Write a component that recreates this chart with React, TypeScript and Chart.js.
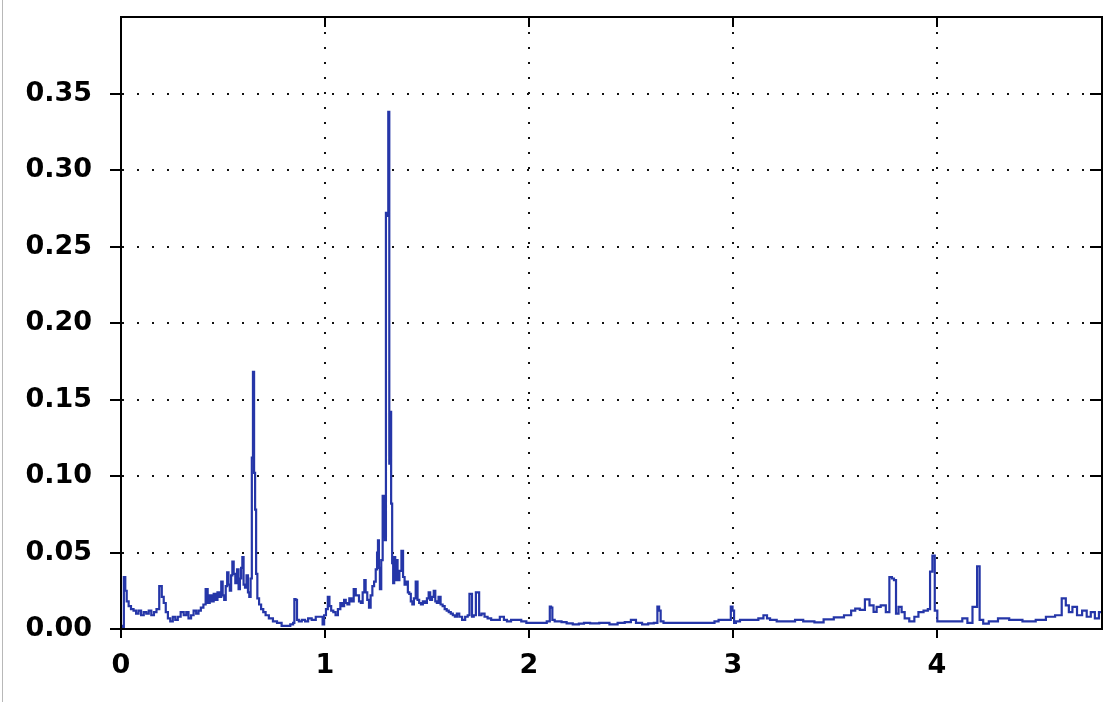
import React, { useEffect, useRef } from "react";
import { Chart, registerables } from "chart.js";

Chart.register(...registerables);

// Spectrum samples: frequency (x) and amplitude (y)
const freq = [
  0.0, 0.01, 0.018, 0.024, 0.032, 0.043, 0.055, 0.068, 0.08, 0.092, 0.105, 0.118, 0.13, 0.142, 0.155, 0.168,
  0.18, 0.195, 0.205, 0.214, 0.225, 0.235, 0.248, 0.26, 0.272, 0.285, 0.3, 0.315, 0.325, 0.337, 0.35, 0.362,
  0.375, 0.385, 0.398, 0.41, 0.42, 0.43, 0.44, 0.45, 0.459, 0.468, 0.478, 0.488, 0.495, 0.502, 0.51, 0.517,
  0.524, 0.53, 0.537, 0.543, 0.549, 0.556, 0.565, 0.573, 0.58, 0.586, 0.592, 0.598, 0.604, 0.612, 0.619, 0.626,
  0.632, 0.639, 0.644, 0.65, 0.655, 0.66, 0.665, 0.672, 0.682, 0.692, 0.703, 0.715, 0.735, 0.755, 0.775, 0.8,
  0.82, 0.84, 0.848, 0.852, 0.86, 0.866, 0.878, 0.895, 0.91, 0.925, 0.945, 0.965, 0.985, 0.992, 1.0, 1.01,
  1.018, 1.026, 1.035, 1.047, 1.057, 1.07, 1.081, 1.09, 1.098, 1.106, 1.114, 1.125, 1.135, 1.147, 1.155, 1.162,
  1.172, 1.18, 1.19, 1.196, 1.203, 1.212, 1.22, 1.228, 1.237, 1.245, 1.253, 1.258, 1.262, 1.267, 1.272, 1.28,
  1.286, 1.292, 1.296, 1.302, 1.308, 1.313, 1.318, 1.322, 1.327, 1.332, 1.337, 1.342, 1.347, 1.352, 1.36, 1.37,
  1.38, 1.386, 1.395, 1.403, 1.41, 1.417, 1.425, 1.432, 1.44, 1.45, 1.458, 1.466, 1.475, 1.485, 1.495, 1.505,
  1.512, 1.52, 1.53, 1.537, 1.545, 1.552, 1.562, 1.572, 1.582, 1.592, 1.602, 1.612, 1.622, 1.632, 1.642, 1.652,
  1.665, 1.68, 1.695, 1.705, 1.712, 1.718, 1.724, 1.735, 1.745, 1.752, 1.76, 1.775, 1.79, 1.805, 1.825, 1.845,
  1.87, 1.885, 1.9, 1.925, 1.95, 1.975, 2.0, 2.025, 2.05, 2.075, 2.1, 2.105, 2.112, 2.118, 2.135, 2.15,
  2.17, 2.2, 2.23, 2.26, 2.28, 2.32, 2.37, 2.42, 2.45, 2.49, 2.51, 2.54, 2.57, 2.6, 2.625, 2.635,
  2.642, 2.65, 2.67, 2.75, 2.88, 2.9, 2.92, 2.94, 2.985, 2.995, 3.002, 3.01, 3.02, 3.05, 3.08, 3.11,
  3.14, 3.16, 3.175, 3.19, 3.24, 3.28, 3.33, 3.36, 3.38, 3.42, 3.47, 3.52, 3.57, 3.59, 3.61, 3.635,
  3.66, 3.68, 3.7, 3.71, 3.74, 3.76, 3.775, 3.785, 3.795, 3.805, 3.82, 3.835, 3.85, 3.88, 3.9, 3.92,
  3.95, 3.962, 3.972, 3.985, 3.995, 4.01, 4.05, 4.11, 4.14, 4.16, 4.19, 4.205, 4.215, 4.24, 4.27, 4.33,
  4.38, 4.46, 4.51, 4.56, 4.6, 4.625, 4.64, 4.655, 4.675, 4.7, 4.725, 4.745, 4.765, 4.785, 4.805,
];

const amp = [
  0.002, 0.001, 0.034, 0.025, 0.018, 0.015, 0.013, 0.012, 0.01, 0.012, 0.009, 0.011, 0.01, 0.012, 0.009, 0.011,
  0.013, 0.028, 0.021, 0.017, 0.011, 0.007, 0.005, 0.008, 0.006, 0.008, 0.011, 0.009, 0.011, 0.007, 0.009, 0.012,
  0.01, 0.012, 0.014, 0.016, 0.026, 0.017, 0.022, 0.018, 0.023, 0.019, 0.024, 0.021, 0.031, 0.022, 0.019, 0.028,
  0.037, 0.029, 0.025, 0.035, 0.044, 0.036, 0.03, 0.039, 0.026, 0.033, 0.04, 0.047, 0.029, 0.027, 0.035, 0.024,
  0.021, 0.033, 0.112, 0.168, 0.102, 0.078, 0.036, 0.02, 0.016, 0.013, 0.011, 0.009, 0.007, 0.005, 0.004, 0.002,
  0.002, 0.003, 0.004, 0.0195, 0.019, 0.006, 0.005, 0.006, 0.005, 0.007, 0.006, 0.008, 0.008, 0.003, 0.009, 0.013,
  0.021, 0.015, 0.012, 0.011, 0.009, 0.013, 0.017, 0.015, 0.019, 0.017, 0.016, 0.02, 0.018, 0.026, 0.022, 0.022,
  0.018, 0.017, 0.024, 0.032, 0.024, 0.019, 0.014, 0.022, 0.028, 0.031, 0.039, 0.05, 0.058, 0.04, 0.026, 0.045,
  0.087, 0.06, 0.058, 0.272, 0.27, 0.338, 0.108, 0.142, 0.082, 0.043, 0.03, 0.047, 0.032, 0.045, 0.032, 0.038,
  0.051, 0.034, 0.029, 0.031, 0.024, 0.023, 0.018, 0.016, 0.02, 0.031, 0.019, 0.017, 0.016, 0.018, 0.017, 0.02,
  0.024, 0.019, 0.021, 0.025, 0.018, 0.017, 0.021, 0.016, 0.015, 0.013, 0.012, 0.011, 0.01, 0.009, 0.008, 0.01,
  0.008, 0.006, 0.008, 0.009, 0.023, 0.023, 0.008, 0.009, 0.024, 0.024, 0.009, 0.01, 0.008, 0.007, 0.006, 0.006,
  0.008, 0.006, 0.005, 0.006, 0.006, 0.005, 0.004, 0.004, 0.004, 0.004, 0.005, 0.0146, 0.014, 0.006, 0.005, 0.005,
  0.0045, 0.0037, 0.003, 0.0035, 0.004, 0.0037, 0.004, 0.003, 0.004, 0.0045, 0.006, 0.004, 0.003, 0.0037, 0.004, 0.0146,
  0.012, 0.005, 0.004, 0.004, 0.004, 0.004, 0.005, 0.006, 0.006, 0.0146, 0.012, 0.004, 0.005, 0.006, 0.006, 0.006,
  0.007, 0.009, 0.007, 0.006, 0.005, 0.005, 0.006, 0.005, 0.005, 0.0043, 0.0063, 0.0076, 0.009, 0.012, 0.0133, 0.0125,
  0.0194, 0.0155, 0.0112, 0.0145, 0.0155, 0.011, 0.034, 0.033, 0.032, 0.01, 0.0145, 0.011, 0.007, 0.005, 0.008, 0.011,
  0.012, 0.013, 0.0375, 0.048, 0.012, 0.005, 0.005, 0.005, 0.007, 0.004, 0.0145, 0.041, 0.006, 0.0035, 0.005, 0.007,
  0.006, 0.005, 0.006, 0.008, 0.009, 0.02, 0.0155, 0.011, 0.0145, 0.009, 0.012, 0.008, 0.011, 0.007, 0.011,
];

// Axis ranges and tick steps
const xMin = 0;
const xMax = 4.81;
const xStep = 1;
const yMin = 0;
const yMax = 0.4;
const yStep = 0.05;

const tickFont = { family: "'DejaVu Sans', sans-serif", size: 27, weight: "bold" as const };

// Closes the plot box and adds the short inward ticks on its top and right edges
const framePlugin = {
  id: "frame",
  afterDraw(chart: any) {
    const { ctx, chartArea: a, scales } = chart;
    ctx.save();
    ctx.strokeStyle = "#000";
    ctx.lineWidth = 2;
    ctx.strokeRect(a.left, a.top, a.right - a.left, a.bottom - a.top);
    ctx.beginPath();
    scales.x.ticks.forEach((t: any) => {
      if (t.value <= xMin) return;
      const px = Math.round(scales.x.getPixelForValue(t.value));
      ctx.moveTo(px, a.top);
      ctx.lineTo(px, a.top + 10);
    });
    scales.y.ticks.forEach((t: any) => {
      if (t.value <= yMin + 1e-9 || t.value >= yMax - 1e-9) return;
      const py = Math.round(scales.y.getPixelForValue(t.value));
      ctx.moveTo(a.right, py);
      ctx.lineTo(a.right - 12, py);
    });
    ctx.stroke();
    ctx.restore();
  },
};

export default function App() {
  const canvasRef = useRef<HTMLCanvasElement | null>(null);

  useEffect(() => {
    if (!canvasRef.current) return;
    const points = freq.map((f, i) => ({ x: f, y: amp[i] }));
    const isTop = (v: number) => v >= yMax - 1e-9;

    const chart = new Chart(canvasRef.current, {
      type: "line",
      data: {
        datasets: [
          {
            data: points,
            borderColor: "#2536a8",
            borderWidth: 2.2,
            pointRadius: 0,
            tension: 0,
            stepped: "middle",
            fill: false,
          },
        ],
      },
      options: {
        animation: false,
        responsive: false,
        devicePixelRatio: 1,
        layout: { padding: { top: 17, right: 14, left: 0, bottom: 0 } },
        plugins: { legend: { display: false }, tooltip: { enabled: false } },
        scales: {
          x: {
            type: "linear",
            min: xMin,
            max: xMax,
            afterFit: (s: any) => {
              s.height = 73;
              s.paddingLeft = 0;
              s.paddingRight = 0;
            },
            ticks: {
              stepSize: xStep,
              includeBounds: false,
              color: "#000",
              font: tickFont,
              padding: 12,
              maxRotation: 0,
              callback: (v: any) => String(v),
            },
            grid: {
              color: "#111",
              lineWidth: 2,
              tickLength: 9,
              tickColor: "#000",
              tickWidth: 2,
            },
            border: { display: true, color: "#000", width: 2, dash: [2, 13] },
          },
          y: {
            type: "linear",
            min: yMin,
            max: yMax,
            afterFit: (s: any) => {
              s.width = 121;
              s.paddingTop = 0;
              s.paddingBottom = 0;
            },
            ticks: {
              stepSize: yStep,
              color: "#000",
              font: tickFont,
              padding: 18,
              callback: (v: any) => (isTop(Number(v)) ? "" : Number(v).toFixed(2)),
            },
            grid: {
              color: (c: any) => (isTop(c.tick?.value ?? 0) ? "rgba(0,0,0,0)" : "#111"),
              lineWidth: 2,
              tickLength: 11,
              tickColor: (c: any) => (isTop(c.tick?.value ?? 0) ? "rgba(0,0,0,0)" : "#000"),
              tickWidth: 2,
            },
            border: { display: true, color: "#000", width: 2, dash: [2, 13] },
          },
        },
      },
      plugins: [framePlugin],
    });

    return () => chart.destroy();
  }, []);

  return (
    <div style={{ position: "fixed", left: 0, top: 0, width: 1116, height: 702, background: "#fff" }}>
      <div style={{ position: "absolute", left: 2, top: 0, width: 1, height: 702, background: "#b8b8b8" }} />
      <canvas
        ref={canvasRef}
        width={1116}
        height={702}
        style={{ position: "absolute", left: 0, top: 0, width: 1116, height: 702 }}
      />
    </div>
  );
}
